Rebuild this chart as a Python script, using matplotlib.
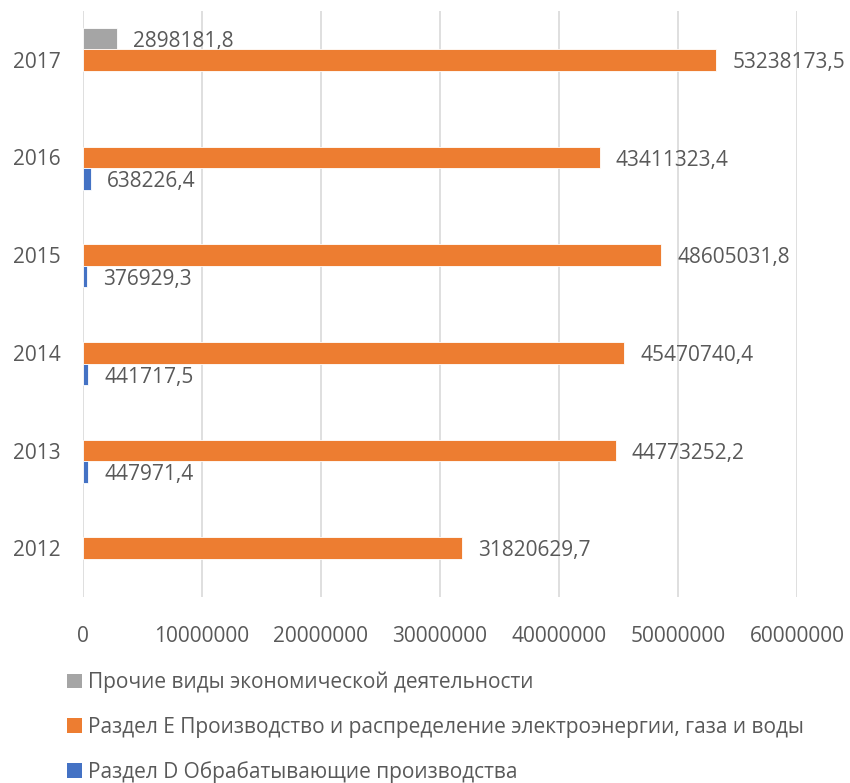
import matplotlib
matplotlib.use("Agg")
import matplotlib.pyplot as plt
import numpy as np
from matplotlib.patches import Patch

years = ["2012", "2013", "2014", "2015", "2016", "2017"]
sec_d = [np.nan, 447971.4, 441717.5, 376929.3, 638226.4, np.nan]
sec_e = [31820629.7, 44773252.2, 45470740.4, 48605031.8, 43411323.4, 53238173.5]
other = [np.nan, np.nan, np.nan, np.nan, np.nan, 2898181.8]

names = ["Прочие виды экономической деятельности",
         "Раздел E Производство и распределение электроэнергии, газа и воды",
         "Раздел D Обрабатывающие производства"]
colors = ["#A5A5A5", "#ED7D31", "#4472C4"]

plt.rcParams['font.family'] = ["Open Sans", "DejaVu Sans"]
txt = "#595959"
fs = 15

fig = plt.figure(figsize=(8.5, 7.83), dpi=100)
ax = fig.add_axes([0.0976, 0.2375, 0.84, 0.7485])

y = np.arange(len(years))
h = 0.22
series = [(other, h, colors[0]), (sec_e, 0, colors[1]), (sec_d, -h, colors[2])]
for vals, off, c in series:
    v = np.array(vals, dtype=float)
    m = ~np.isnan(v)
    ax.barh(y[m] + off, v[m], height=h, color=c, edgecolor="white", linewidth=0.6, zorder=3)
    for yi, vi in zip(y[m], v[m]):
        lab = f"{vi:.1f}".replace(".", ",")
        ax.annotate(lab, (vi, yi + off), xytext=(11.5, -2), textcoords="offset points",
                    va="center", ha="left", fontsize=fs, color=txt)

ax.set_xlim(0, 60000000)
ax.set_ylim(-0.5, len(years) - 0.5)
ticks = np.arange(0, 60000001, 10000000)
ax.set_xticks(ticks)
ax.set_xticklabels([str(int(t)) for t in ticks])
ax.set_yticks(y)
ax.set_yticklabels(years)
ax.tick_params(axis="x", length=0, pad=21, labelsize=fs, labelcolor=txt)
ax.tick_params(axis="y", length=0, pad=16, labelsize=fs, labelcolor=txt)
ax.grid(axis="x", color="#D9D9D9", linewidth=1.2, zorder=0)
for s in ax.spines.values():
    s.set_visible(False)

handles = [Patch(facecolor=c) for c in colors]
fig.legend(handles, names, loc="upper left", bbox_to_anchor=(0.079, 0.142),
           frameon=False, fontsize=fs, labelcolor=txt, handlelength=0.7,
           handleheight=0.7, handletextpad=0.3, labelspacing=1.12, borderaxespad=0, borderpad=0)

fig.savefig("out.png", dpi=100)
